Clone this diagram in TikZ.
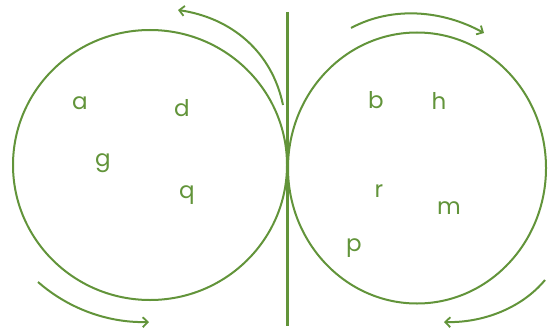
\documentclass[tikz,border=0pt]{standalone}
\usepackage{fontspec}
\setmainfont{Poppins}
\usetikzlibrary{arrows.meta}
\definecolor{pen}{RGB}{98,148,58}
\tikzset{
  ring/.style={draw=pen, line width=2pt, ellipse, inner sep=0pt},
  lbl/.style={text=pen, font=\fontsize{23}{25}\selectfont, inner sep=0pt},
  turn/.style={draw=pen, line width=2pt, -{Straight Barb[length=5pt,width=10pt,line width=1.8pt]}},
}
\usetikzlibrary{shapes.geometric}
\begin{document}
\begin{tikzpicture}[x=1pt,y=-1pt]
\useasboundingbox (0,0) rectangle (548,334);
\node[ring, minimum width=274pt, minimum height=270pt] (L) at (150,165) {};
\node[ring, minimum width=258pt, minimum height=271pt] (R) at (417,168) {};
\coordinate (vt) at (287,12);
\coordinate (vb) at (287,326);
\draw[draw=pen, line width=3pt] (vt) -- (vb);
% letters
\node[lbl] (a) at (80,103) {a};
\node[lbl] (d) at (182,108) {d};
\node[lbl] (g) at (103,163) {g};
\node[lbl] (q) at (187,195) {q};
\node[lbl] (b) at (376,100) {b};
\node[lbl] (h) at (439,101) {h};
\node[lbl] (r) at (379,191) {r};
\node[lbl] (m) at (449,208) {m};
\node[lbl] (p) at (354,248) {p};
% rotation arrows
\coordinate (tl1) at (283,105); \coordinate (tl2) at (178,10);
\coordinate (tr1) at (351,28);  \coordinate (tr2) at (484,33);
\coordinate (bl1) at (38,282);  \coordinate (bl2) at (149,322);
\coordinate (br1) at (545,280); \coordinate (br2) at (444,322);
\draw[turn] (tl1) .. controls (272,52) and (232,18) .. (tl2);
\draw[turn] (tr1) .. controls (392,6) and (442,10) .. (tr2);
\draw[turn] (bl1) .. controls (70,310) and (110,323) .. (bl2);
\draw[turn] (br1) .. controls (520,310) and (480,323) .. (br2);
\end{tikzpicture}
\end{document}
